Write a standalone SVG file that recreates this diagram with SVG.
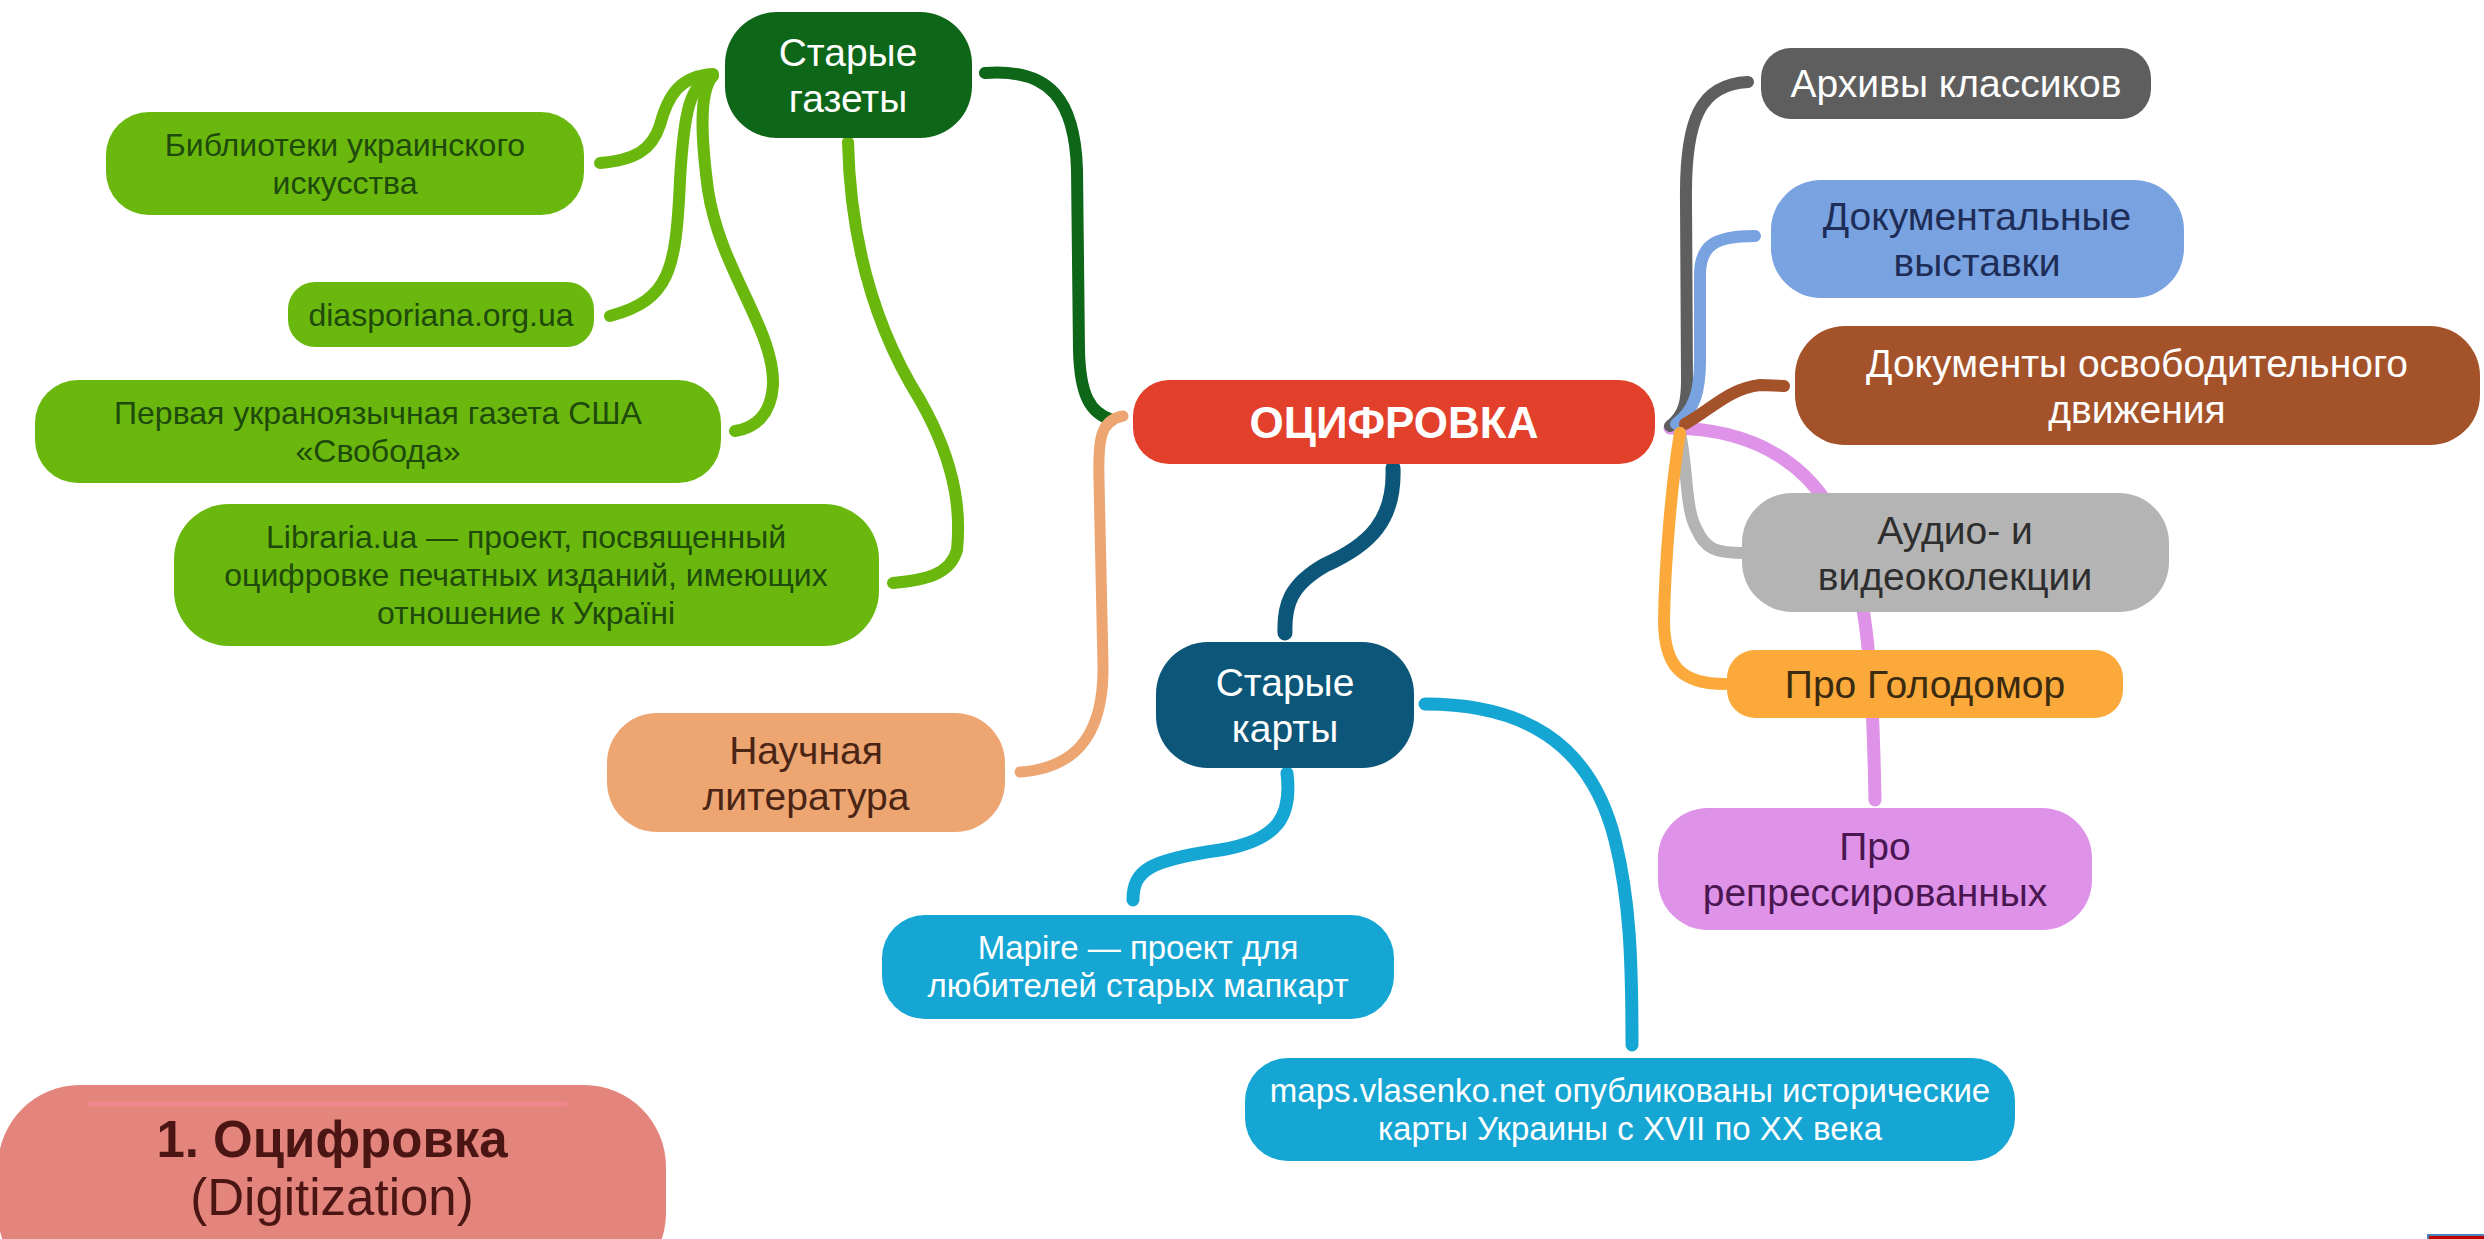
<svg xmlns="http://www.w3.org/2000/svg" width="2484" height="1239" viewBox="0 0 2484 1239">
<style>
text{font-family:"Liberation Sans",Arial,sans-serif;text-anchor:middle}
.s{font-size:32px}
.c{font-size:33px}
.m{font-size:39px}
.lnk{fill:none;stroke-linecap:round;stroke-linejoin:round}
</style>
<rect width="2484" height="1239" fill="#ffffff"/>
<g id="connectors" class="lnk">
<path d="M985,73 C1050,68 1075,100 1077,170 L1079,350 C1080,395 1090,413 1112,420" stroke="#0e6618" stroke-width="12"/>
<path d="M1123,416 C1100,420 1098,440 1099,480 L1103,665 C1104,730 1080,768 1020,772" stroke="#eda571" stroke-width="11"/>
<path d="M1393,468 C1395,520 1370,545 1325,565 C1290,585 1284,605 1285,633" stroke="#0c5679" stroke-width="15"/>
<path d="M1287,773 C1292,815 1280,840 1220,850 C1150,860 1133,870 1133,900" stroke="#16a6d4" stroke-width="13"/>
<path d="M1425,704 C1520,704 1590,740 1615,840 C1630,900 1632,960 1632,1045" stroke="#16a6d4" stroke-width="13"/>
<path d="M713,74 C680,76 668,95 660,125 C652,150 635,160 600,163" stroke="#6ab80e" stroke-width="12"/>
<path d="M712,76 C690,85 684,110 680,180 C676,270 670,300 610,316" stroke="#6ab80e" stroke-width="12"/>
<path d="M713,76 C700,90 700,130 708,190 C720,270 775,330 773,385 C771,415 755,428 735,431" stroke="#6ab80e" stroke-width="12"/>
<path d="M848,142 C850,230 870,320 920,400 C960,470 960,520 957,550 C950,575 925,580 893,583" stroke="#6ab80e" stroke-width="12"/>
<path d="M1670,428 C1760,428 1820,470 1845,540 C1865,600 1872,640 1875,800" stroke="#de92e8" stroke-width="13"/>
<path d="M1670,426 C1685,415 1687,400 1687,380 L1686,200 C1685,120 1700,84 1748,82" stroke="#5e5e5e" stroke-width="12"/>
<path d="M1676,424 C1695,410 1700,390 1700,360 L1700,275 C1700,245 1715,236 1755,236" stroke="#79a2e0" stroke-width="12"/>
<path d="M1685,424 C1710,410 1730,388 1760,385 L1784,386" stroke="#a4522a" stroke-width="12"/>
<path d="M1680,433 C1688,470 1685,510 1697,530 C1705,548 1715,553 1742,553" stroke="#b4b4b4" stroke-width="12"/>
<path d="M1680,433 C1672,480 1665,560 1664,620 C1664,665 1680,684 1725,684" stroke="#fba93a" stroke-width="12"/>
</g>
<g id="staryegazety"><rect x="725" y="12" width="247" height="126" rx="52" fill="#0e6618"/><text class="m" fill="#ffffff" x="848" y="66">Старые</text><text class="m" fill="#ffffff" x="848" y="112">газеты</text></g>
<g id="biblioteki"><rect x="106" y="112" width="478" height="103" rx="43" fill="#6ab80e"/><text class="s" fill="#1e4a0b" x="345" y="156">Библиотеки украинского</text><text class="s" fill="#1e4a0b" x="345" y="194">искусства</text></g>
<g id="diasporiana"><rect x="288" y="282" width="306" height="65" rx="27" fill="#6ab80e"/><text class="s" fill="#1e4a0b" x="441" y="326">diasporiana.org.ua</text></g>
<g id="pervaya"><rect x="35" y="380" width="686" height="103" rx="43" fill="#6ab80e"/><text class="s" fill="#1e4a0b" x="378" y="424">Первая украноязычная газета США</text><text class="s" fill="#1e4a0b" x="378" y="462">«Свобода»</text></g>
<g id="libraria"><rect x="174" y="504" width="705" height="142" rx="55" fill="#6ab80e"/><text class="s" fill="#1e4a0b" x="526" y="548">Libraria.ua — проект, посвященный</text><text class="s" fill="#1e4a0b" x="526" y="586">оцифровке печатных изданий, имеющих</text><text class="s" fill="#1e4a0b" x="526" y="624">отношение к Україні</text></g>
<g id="nauchnaya"><rect x="607" y="713" width="398" height="119" rx="50" fill="#eda571"/><text class="m" fill="#4a2414" x="806" y="764">Научная</text><text class="m" fill="#4a2414" x="806" y="810">литература</text></g>
<g id="ocifrovka"><rect x="1133" y="380" width="522" height="84" rx="36" fill="#e2402b"/><text fill="#ffffff" x="1394" y="438" style="font-size:44px;font-weight:bold">ОЦИФРОВКА</text></g>
<g id="arhivy"><rect x="1761" y="48" width="390" height="71" rx="30" fill="#5e5e5e"/><text class="m" fill="#ffffff" x="1956" y="97">Архивы классиков</text></g>
<g id="dokvystavki"><rect x="1771" y="180" width="413" height="118" rx="50" fill="#79a2e0"/><text class="m" fill="#1d2d58" x="1977" y="230">Документальные</text><text class="m" fill="#1d2d58" x="1977" y="276">выставки</text></g>
<g id="dokosvob"><rect x="1795" y="326" width="685" height="119" rx="50" fill="#a4522a"/><text class="m" fill="#ffffff" x="2137" y="377">Документы освободительного</text><text class="m" fill="#ffffff" x="2137" y="423">движения</text></g>
<g id="audio"><rect x="1742" y="493" width="427" height="119" rx="50" fill="#b4b4b4"/><text class="m" fill="#2e2e2e" x="1955" y="544">Аудио- и</text><text class="m" fill="#2e2e2e" x="1955" y="590">видеоколекции</text></g>
<g id="golodomor"><rect x="1727" y="650" width="396" height="68" rx="28" fill="#fba93a"/><text class="m" fill="#3a2a10" x="1925" y="698">Про Голодомор</text></g>
<g id="repress"><rect x="1658" y="808" width="434" height="122" rx="50" fill="#de92e8"/><text class="m" fill="#4a1652" x="1875" y="860">Про</text><text class="m" fill="#4a1652" x="1875" y="906">репрессированных</text></g>
<g id="starkarty"><rect x="1156" y="642" width="258" height="126" rx="52" fill="#0c5679"/><text class="m" fill="#ffffff" x="1285" y="696">Старые</text><text class="m" fill="#ffffff" x="1285" y="742">карты</text></g>
<g id="mapire"><rect x="882" y="915" width="512" height="104" rx="43" fill="#16a6d4"/><text class="c" fill="#ffffff" x="1138" y="959">Mapire — проект для</text><text class="c" fill="#ffffff" x="1138" y="997">любителей старых мапкарт</text></g>
<g id="vlasenko"><rect x="1245" y="1058" width="770" height="103" rx="43" fill="#16a6d4"/><text class="c" fill="#ffffff" x="1630" y="1102">maps.vlasenko.net опубликованы исторические</text><text class="c" fill="#ffffff" x="1630" y="1140">карты Украины с XVII по XX века</text></g>
<g id="title"><rect x="-2" y="1085" width="668" height="210" rx="82" fill="#e4857d"/><line x1="87" y1="1104" x2="567" y2="1104" stroke="#f08790" stroke-width="5"/><text fill="#4a1512" x="332" y="1157" style="font-size:51px;font-weight:bold">1. Оцифровка</text><text fill="#4a1512" x="332" y="1215" style="font-size:51px">(Digitization)</text></g>
<g id="corner"><rect x="2428" y="1235" width="60" height="10" fill="#c00000" stroke="#4f81bd" stroke-width="2"/></g>
</svg>
